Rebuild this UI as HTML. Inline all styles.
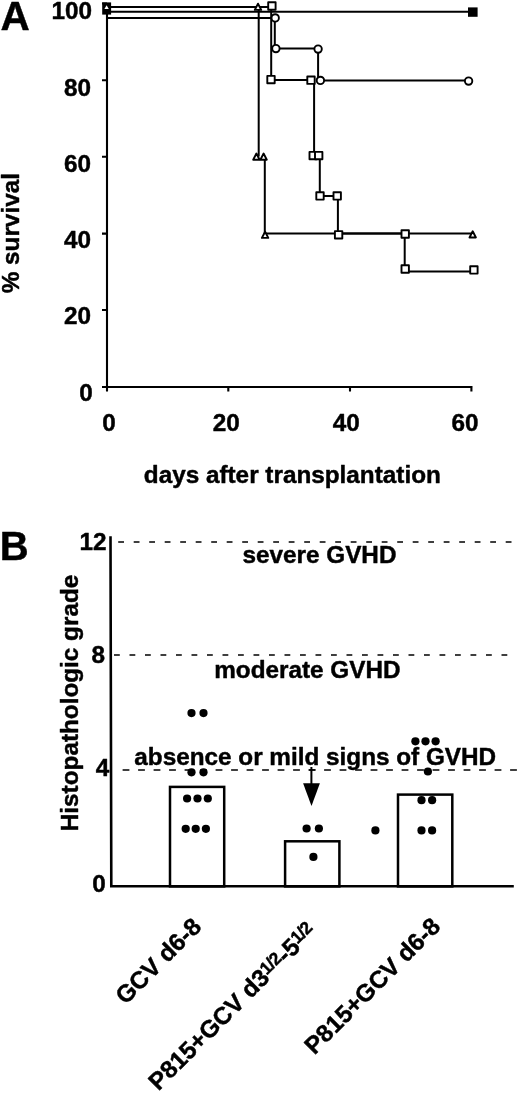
<!DOCTYPE html>
<html><head><meta charset="utf-8">
<style>
html,body{margin:0;padding:0;background:#fff;width:520px;height:1093px;overflow:hidden}
svg{display:block}
text{font-family:"Liberation Sans",sans-serif;font-weight:bold;fill:#000;stroke:#000;stroke-width:0.45px;stroke-linejoin:round}
body{-webkit-font-smoothing:antialiased}
svg{filter:grayscale(1)}
</style></head><body>
<svg width="520" height="1093" viewBox="0 0 520 1093">
<!-- ================= Panel A ================= -->
<text x="0.5" y="29.5" font-size="40.5">A</text>
<g font-size="24.3" text-anchor="end">
<text x="92" y="18.8">100</text>
<text x="91" y="95.5">80</text>
<text x="91" y="171.8">60</text>
<text x="91" y="248">40</text>
<text x="91" y="324.2">20</text>
<text x="92.8" y="401">0</text>
</g>
<g font-size="24.3" text-anchor="middle">
<text x="109" y="431">0</text>
<text x="226.2" y="431">20</text>
<text x="346.2" y="431">40</text>
<text x="465.1" y="431">60</text>
</g>
<text x="143.8" y="483.1" font-size="24.3">days after transplantation</text>
<text transform="translate(19.4,293.3) rotate(-90)" font-size="24.3">% survival</text>

<g stroke="#000" stroke-width="2" fill="none" stroke-linecap="butt">
<!-- axes -->
<path d="M107,3.5 V391.5 M102,387 H472.5 M102,3.5 H107 M102,80.2 H107 M102,156.7 H107 M102,233.6 H107 M102,310 H107 M228.3,387 V391.5 M350,387 V391.5 M471.4,387 V391.5" stroke-width="2.1"/>
<!-- filled square series -->
<path d="M107,11.8 H473"/>
<!-- triangle series -->
<path d="M107,7.1 H258.7 V156.6 M264.8,156.6 V233.6 H472.7"/>
<!-- square series -->
<path d="M258,7.1 H271.2 V80.1 H314.1 V155.6 M319.8,155.6 V195.9 H337.9 V233.6 H404.7 V271.6 H473.9"/>
<!-- circle series -->
<path d="M107,18.1 H274.8 V48.6 H318.1 V80.5 H468.6"/>
</g>
<!-- markers -->
<g stroke="#000" stroke-width="1.9" fill="#fff" stroke-linejoin="round">
<rect x="268.20" y="2.30" width="7.4" height="7.4"/>
<rect x="267.30" y="75.90" width="7.4" height="7.4"/>
<rect x="307.30" y="76.50" width="7.4" height="7.4"/>
<rect x="309.50" y="151.90" width="7.4" height="7.4"/>
<rect x="315.00" y="151.90" width="7.4" height="7.4"/>
<rect x="316.30" y="192.20" width="7.4" height="7.4"/>
<rect x="333.50" y="192.20" width="7.4" height="7.4"/>
<rect x="334.90" y="231.10" width="7.4" height="7.4"/>
<rect x="401.50" y="230.30" width="7.4" height="7.4"/>
<rect x="401.50" y="265.30" width="7.4" height="7.4"/>
<rect x="470.20" y="266.20" width="7.4" height="7.4"/>
<circle cx="275.2" cy="17.9" r="3.7"/>
<circle cx="275.9" cy="48.6" r="3.7"/>
<circle cx="318.1" cy="49.1" r="3.7"/>
<circle cx="320.4" cy="80.4" r="3.7"/>
<circle cx="468.6" cy="81.1" r="3.7"/>
<path d="M258.00,3.70 L261.20,9.90 L254.80,9.90 Z"/>
<path d="M256.40,153.50 L259.60,159.70 L253.20,159.70 Z"/>
<path d="M263.60,153.50 L266.80,159.70 L260.40,159.70 Z"/>
<path d="M265.10,231.70 L268.30,237.90 L261.90,237.90 Z"/>
<path d="M472.70,231.30 L475.90,237.50 L469.50,237.50 Z"/>
</g>
<!-- top-left marker blob -->
<rect x="102.2" y="2.4" width="8.9" height="12.2" fill="#000"/>
<path d="M106.6,5.2 L108.8,9 L104.4,9 Z" fill="#fff"/>
<!-- filled square end -->
<rect x="468" y="7.4" width="9.6" height="9.4" fill="#000"/>

<!-- ================= Panel B ================= -->
<text x="-0.3" y="559.5" font-size="40">B</text>
<g font-size="24.3">
<text x="79.6" y="549.5">12</text>
<text x="91.6" y="663.4">8</text>
<text x="95.8" y="776">4</text>
<text x="92.2" y="891.7">0</text>
</g>
<text transform="translate(77.8,831.2) rotate(-90)" font-size="24.3">Histopathologic grade</text>
<g font-size="24.3">
<text x="242.5" y="563.2">severe GVHD</text>
<text x="214.2" y="678.3">moderate GVHD</text>
<text x="134.3" y="765">absence or mild signs of GVHD</text>
</g>
<!-- dashed lines -->
<g stroke="#000" stroke-width="1.5" fill="none">
<path d="M118.2,542 H514" stroke-dasharray="5.8 9.7"/>
<path d="M114,655 H510" stroke-dasharray="5.8 9.7"/>
<path d="M122.6,770 H518" stroke-dasharray="6.8 8.7" stroke-width="1.4"/>
</g>
<!-- axes -->
<g stroke="#000" stroke-width="2.5" fill="none">
<path d="M110.5,536.3 L111.3,887.6 M110,886.3 H513.8" stroke-width="2.6"/>
<rect x="170" y="786.9" width="54.2" height="99.5"/>
<rect x="285.1" y="841.3" width="54.3" height="45.1"/>
<rect x="398" y="794.6" width="54.3" height="91.8"/>
</g>
<!-- arrow -->
<path d="M311.4,767 V784" stroke="#000" stroke-width="2"/>
<path d="M308.8,769.9 H315.5" stroke="#000" stroke-width="1.4"/>
<path d="M303.1,783.2 L319.9,783.2 L311.5,806 Z" fill="#000"/>
<!-- dots -->
<g fill="#000">
<circle cx="191.5" cy="713.1" r="4.1"/><circle cx="203.5" cy="713.1" r="4.1"/>
<circle cx="191.5" cy="772.3" r="4.1"/><circle cx="203.5" cy="772.3" r="4.1"/>
<circle cx="187.1" cy="798.5" r="4.1"/><circle cx="197.5" cy="798.5" r="4.1"/><circle cx="207.8" cy="798.5" r="4.1"/>
<circle cx="185.7" cy="828.8" r="4.1"/><circle cx="195.7" cy="828.8" r="4.1"/><circle cx="205.9" cy="828.8" r="4.1"/>
<circle cx="306.6" cy="828.5" r="4.1"/><circle cx="318.9" cy="828.5" r="4.1"/>
<circle cx="313.4" cy="856.9" r="4.1"/>
<circle cx="375.4" cy="830.4" r="4.1"/>
<circle cx="415.4" cy="741.3" r="4.1"/><circle cx="425.5" cy="741.3" r="4.1"/><circle cx="435.6" cy="741.3" r="4.1"/>
<circle cx="427.9" cy="771.5" r="4.1"/>
<circle cx="421.5" cy="800.2" r="4.1"/><circle cx="432.1" cy="800.2" r="4.1"/>
<circle cx="421.5" cy="830.4" r="4.1"/><circle cx="432.1" cy="830.4" r="4.1"/>
</g>
<!-- rotated category labels -->
<g font-size="24.3" text-anchor="end">
<text transform="translate(202.8,928.2) rotate(-45)">GCV d6-8</text>
<text transform="translate(317,933) rotate(-45)">P815+GCV d3<tspan font-size="17.5" dy="-5.5" letter-spacing="-0.8">1/2</tspan><tspan dy="5.5">-5</tspan><tspan font-size="17.5" dy="-5.5" letter-spacing="-0.8">1/2</tspan></text>
<text transform="translate(441.9,927.9) rotate(-45)">P815+GCV d6-8</text>
</g>
</svg>
</body></html>
